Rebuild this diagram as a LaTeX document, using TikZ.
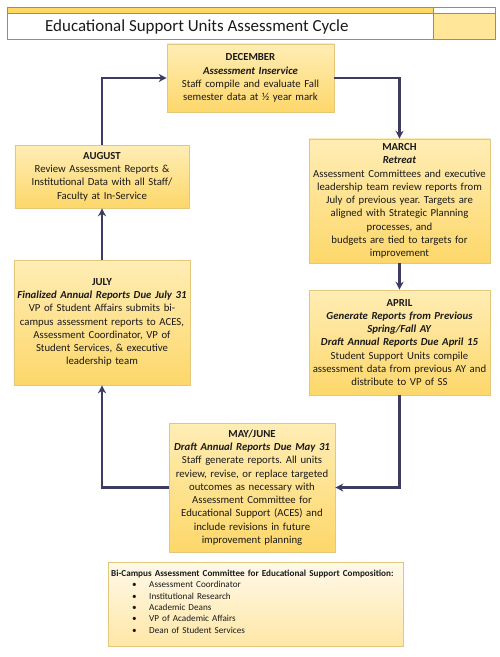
\documentclass[tikz,border=0pt]{standalone}
\usepackage{fontspec}
\setmainfont{Carlito}
\usetikzlibrary{shadows,arrows.meta}
\definecolor{boxtop}{HTML}{FFEDB5}
\definecolor{boxbot}{HTML}{FDD76A}
\definecolor{boxline}{HTML}{E3C77A}
\definecolor{conncol}{HTML}{3C3C62}
\definecolor{gold}{HTML}{FFD966}
\definecolor{paleg}{HTML}{FFE699}
\definecolor{titleline}{HTML}{8A8AA0}
\definecolor{notetop}{HTML}{FFF9EA}
\definecolor{notebot}{HTML}{FFE7A6}
\definecolor{txt}{HTML}{1A1A1A}
\tikzset{
  stagebox/.style={draw=boxline, line width=0.6pt, top color=boxtop, bottom color=boxbot,
    drop shadow={shadow xshift=1.2pt, shadow yshift=-1.2pt, opacity=0.25},
    align=center, inner sep=1pt, text=txt,
    font=\fontsize{10.8}{13.3}\selectfont},
  conn/.style={draw=conncol, line width=2.2pt, -{Stealth[length=8pt,width=8pt]}},
}
\newcommand{\bulletitem}[1]{\makebox[38bp][l]{\hspace*{21bp}\textbullet}#1}
\begin{document}
\frenchspacing
\begin{tikzpicture}[x=1bp,y=-1bp]
\useasboundingbox (0,0) rectangle (500,657);
% title
\fill[gold] (7,7) rectangle (433,13);
\fill[paleg] (433,13) rectangle (495,39);
\draw[titleline, line width=0.6pt] (7,7) rectangle (495,39);
\draw[titleline, line width=0.6pt] (433,7) -- (433,39);
\draw[titleline, line width=0.4pt] (7,13) -- (495,13);
\node[anchor=west, font=\fontsize{17}{20}\selectfont, text=txt, inner sep=0pt] (title) at (45,26.5) {Educational Support Units Assessment Cycle};
% boxes
\node[stagebox, minimum width=167bp, minimum height=68bp, text width=165bp] (dec) at (250.5,78)
 {\textbf{DECEMBER}\\\textbf{\textit{Assessment Inservice}}\\Staff compile and evaluate Fall\\semester data at ½ year mark};
\node[stagebox, minimum width=174bp, minimum height=63bp, text width=172bp] (aug) at (102,176.5)
 {\textbf{AUGUST}\\Review Assessment Reports \&\\Institutional Data with all Staff/\\Faculty at In-Service};
\node[stagebox, minimum width=181bp, minimum height=124bp, text width=179bp] (mar) at (399.5,201)
 {\textbf{MARCH}\\\textbf{\textit{Retreat}}\\Assessment Committees and executive\\leadership team review reports from\\July of previous year. Targets are\\aligned with Strategic Planning\\processes, and\\budgets are tied to targets for\\improvement};
\node[stagebox, minimum width=176bp, minimum height=125bp, text width=174bp] (jul) at (102,322.5)
 {\textbf{JULY}\\\textbf{\textit{Finalized Annual Reports Due July 31}}\\VP of Student Affairs submits bi-\\campus assessment reports to ACES,\\Assessment Coordinator, VP of\\Student Services, \& executive\\leadership team};
\node[stagebox, minimum width=181bp, minimum height=105bp, text width=179bp] (apr) at (399.5,342.5)
 {\textbf{APRIL}\\\textbf{\textit{Generate Reports from Previous}}\\\textbf{\textit{Spring/Fall AY}}\\\textbf{\textit{Draft Annual Reports Due April 15}}\\Student Support Units compile\\assessment data from previous AY and\\distribute to VP of SS};
\node[stagebox, minimum width=166bp, minimum height=129bp, text width=164bp] (may) at (252,487.5)
 {\textbf{MAY/JUNE}\\\textbf{\textit{Draft Annual Reports Due May 31}}\\Staff generate reports. All units\\review, revise, or replace targeted\\outcomes as necessary with\\Assessment Committee for\\Educational Support (ACES) and\\include revisions in future\\improvement planning};
% note box
\node[draw=boxline, line width=0.6pt, top color=notetop, bottom color=notebot,
  drop shadow={shadow xshift=1.2pt, shadow yshift=-1.2pt, opacity=0.2},
  minimum width=295bp, minimum height=84bp] (note) at (255.5,604) {};
\node[anchor=north west, align=left, text width=300bp, inner sep=0pt, text=txt, font=\fontsize{9.2}{11.5}\selectfont] (notetext) at (111,569.5)
 {\hyphenpenalty=10000 \textbf{Bi-Campus Assessment Committee for Educational Support Composition:}\\
  \bulletitem{Assessment Coordinator}\\
  \bulletitem{Institutional Research}\\
  \bulletitem{Academic Deans}\\
  \bulletitem{VP of Academic Affairs}\\
  \bulletitem{Dean of Student Services}};
% connectors
\draw[conn] (aug.north) |- (dec.west);
\draw[conn] (dec.east) -| (mar.north);
\draw[conn] (mar.south) -- (apr.north);
\draw[conn] (apr.south) |- (may.east);
\draw[conn] (may.west) -| (jul.south);
\draw[conn] (jul.north) -- (aug.south);
\end{tikzpicture}
\end{document}
